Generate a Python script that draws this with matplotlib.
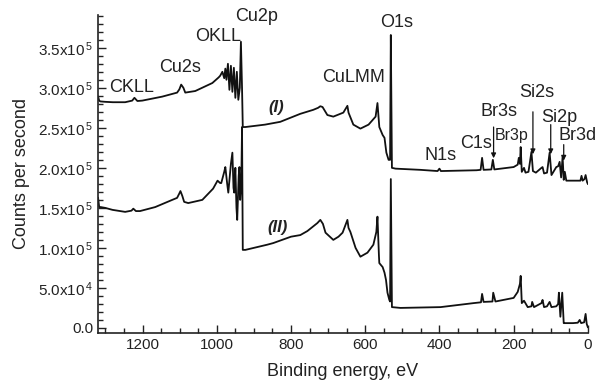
import matplotlib
matplotlib.use("Agg")
import matplotlib.pyplot as plt
from matplotlib.ticker import MultipleLocator, FixedLocator

plt.rcParams['font.family'] = ['Liberation Sans', 'DejaVu Sans']
plt.rcParams['mathtext.fontset'] = 'custom'
plt.rcParams['mathtext.rm'] = 'Liberation Sans'
plt.rcParams['mathtext.it'] = 'Liberation Sans:italic'

# ---- data: binding energy (eV) and counts per second ----
energy_I = [1320, 1317, 1314, 1301, 1280, 1247, 1228, 1222, 1214, 1201, 1147, 1107, 1101, 1096,
            1090, 1085, 1058, 1012, 995, 991, 985, 980, 977, 974, 970, 966, 962, 958, 954, 950,
            946, 942, 938, 935, 932, 930, 923, 870, 829, 775, 740, 727, 721, 715, 702, 686, 659,
            648, 645, 632, 613, 591, 572, 567, 562, 553, 548, 543, 537, 533, 531, 528, 518, 451,
            405, 400, 396, 300, 289, 285, 281, 260, 256, 252, 200, 189, 186, 183, 181, 178, 172,
            168, 160, 152, 148, 140, 125, 122, 118, 110, 103, 98, 85, 80, 76, 72, 68, 65, 62,
            58, 54, 20, 17, 14, 9, 6, 2, 0]
counts_I = [289000, 284000, 283000, 282500, 282000, 282000, 284000, 287500, 283500, 284000,
            289000, 294000, 298000, 304000, 300000, 294000, 296000, 306000, 313000, 315000,
            320000, 312000, 324000, 310000, 330000, 297500, 327500, 295000, 325000, 287500,
            320000, 285000, 300000, 357500, 300000, 251000, 251000, 254000, 257500, 267500,
            272500, 275000, 277000, 276000, 266000, 264000, 269000, 277500, 269000, 254000,
            249000, 254000, 264000, 281000, 251000, 241000, 237500, 219000, 210000, 210000,
            366000, 200000, 199000, 197500, 196000, 199000, 196000, 197000, 197500, 212500,
            197500, 198000, 210000, 198000, 201000, 204000, 212500, 205000, 226000, 195000,
            200000, 194000, 195000, 220000, 196000, 194000, 200000, 201000, 193000, 194000,
            219000, 191000, 201000, 202000, 207500, 188000, 214000, 185000, 195000, 184000,
            184000, 184000, 190000, 184000, 186000, 191000, 182000, 180000]

energy_II = [1320, 1317, 1313, 1301, 1281, 1247, 1230, 1225, 1218, 1207, 1166, 1120, 1107, 1101,
             1098, 1093, 1088, 1077, 1039, 1010, 998, 991, 988, 980, 977, 972, 969, 962, 958,
             955, 953, 950, 947, 945, 941, 939, 937, 934, 932, 930, 923, 864, 848, 800, 775,
             756, 729, 721, 714, 707, 686, 672, 661, 648, 645, 640, 626, 613, 594, 578, 570,
             567, 563, 562, 553, 548, 544, 540, 535, 533, 531, 528, 505, 397, 308, 288, 285,
             281, 257, 255, 249, 200, 189, 186, 183, 181, 178, 172, 162, 152, 150, 145, 141,
             125, 122, 118, 110, 103, 98, 85, 80, 78, 74, 69, 65, 62, 40, 27, 22, 18, 10, 6,
             3, 0]
counts_II = [162500, 151000, 151000, 150000, 147500, 145000, 146500, 149000, 146000, 146000,
             151000, 160000, 162500, 168000, 171000, 165000, 157500, 156000, 160000, 174000,
             184000, 181000, 181000, 195000, 201000, 180000, 169000, 205000, 219000, 175000,
             169000, 200000, 150000, 135000, 190000, 201000, 160000, 180000, 251000, 97500,
             97500, 104000, 106000, 114000, 116000, 121000, 131000, 135000, 130000, 119000,
             110000, 114000, 119000, 135000, 125000, 120000, 100000, 89000, 94000, 104000,
             120000, 139000, 90000, 81000, 76000, 69000, 60000, 44000, 35000, 33000, 186000,
             26000, 25000, 26000, 31000, 32000, 42500, 32500, 33000, 44000, 33000, 37500,
             45000, 50000, 55000, 65000, 31000, 34000, 26000, 27000, 32500, 26000, 27000,
             31000, 35000, 26000, 27000, 32500, 26000, 27000, 30000, 44000, 14000, 44000,
             6000, 6000, 6000, 6500, 10000, 6000, 7000, 17500, 5000, 1000]

xticks = [1200, 1000, 800, 600, 400, 200, 0]
xtick_labels = ['1200', '1000', '800', '600', '400', '200', '0']
yticks = [0, 50000, 100000, 150000, 200000, 250000, 300000, 350000]
ytick_labels = ['0.0', r'5.0x10$^{\,4}$', r'1.0x10$^{\,5}$', r'1.5x10$^{\,5}$', r'2.0x10$^{\,5}$',
                r'2.5x10$^{\,5}$', r'3.0x10$^{\,5}$', r'3.5x10$^{\,5}$']

# peak labels: text, energy, counts
peak_labels = ['CKLL', 'Cu2s', 'OKLL', 'Cu2p', 'O1s', 'CuLMM', 'N1s', 'C1s', 'Br3s', 'Si2s',
               'Si2p', 'Br3d']
peak_label_E = [1231, 1099, 996, 893, 516, 632, 397, 302, 240, 137, 78, 27]
peak_label_C = [300000, 326000, 364000, 389000, 381000, 312500, 216000, 231000, 270000,
                294000, 262500, 240000]

# arrows: energy, start counts, tip counts
arrow_E = [254, 148, 100, 65]
arrow_from = [251000, 270000, 254000, 229000]
arrow_to = [212000, 217000, 217000, 209000]

fig = plt.figure(figsize=(5.98, 3.84), dpi=100)
ax = fig.add_axes([0.164, 0.133, 0.819, 0.828])

ink = '#111111'
ax.plot(energy_I, counts_I, color=ink, lw=1.3)
ax.plot(energy_II, counts_II, color=ink, lw=1.3)

ax.set_xlim(1320, 0)
ax.set_ylim(-6250, 391000)

ax.xaxis.set_major_locator(FixedLocator(xticks))
ax.set_xticklabels(xtick_labels)
ax.xaxis.set_minor_locator(MultipleLocator(50))
ax.yaxis.set_major_locator(FixedLocator(yticks))
ax.set_yticklabels(ytick_labels)
ax.yaxis.set_minor_locator(MultipleLocator(10000))

ax.tick_params(which='both', direction='in', color='#222222', width=1.0)
ax.tick_params(which='major', length=6, labelsize=11, labelcolor='#222222')
ax.tick_params(which='minor', length=3.5)
for s in ['top', 'right']:
    ax.spines[s].set_visible(False)
for s in ['left', 'bottom']:
    ax.spines[s].set_linewidth(1.2)
    ax.spines[s].set_color('#222222')

ax.set_xlabel('Binding energy, eV', fontsize=13, color='#222222', labelpad=8)
ax.set_ylabel('Counts per second', fontsize=13, color='#222222', labelpad=6)

for t, e, c in zip(peak_labels, peak_label_E, peak_label_C):
    ax.text(e, c, t, fontsize=13, ha='center', va='center', color='#222222', clip_on=False)
ax.text(205, 241000, 'Br3p', fontsize=11.5, ha='center', va='center', color='#222222')
ax.text(839, 276000, '(I)', fontsize=12, ha='center', va='center', style='italic',
        weight='bold', color='#222222')
ax.text(836, 126000, '(II)', fontsize=12, ha='center', va='center', style='italic',
        weight='bold', color='#222222')

for e, c0, c1 in zip(arrow_E, arrow_from, arrow_to):
    ax.annotate('', xy=(e, c1), xytext=(e, c0),
                arrowprops=dict(arrowstyle='-|>', lw=0.9, color=ink, mutation_scale=7,
                                shrinkA=0, shrinkB=0))

fig.savefig('out.png', dpi=100)
